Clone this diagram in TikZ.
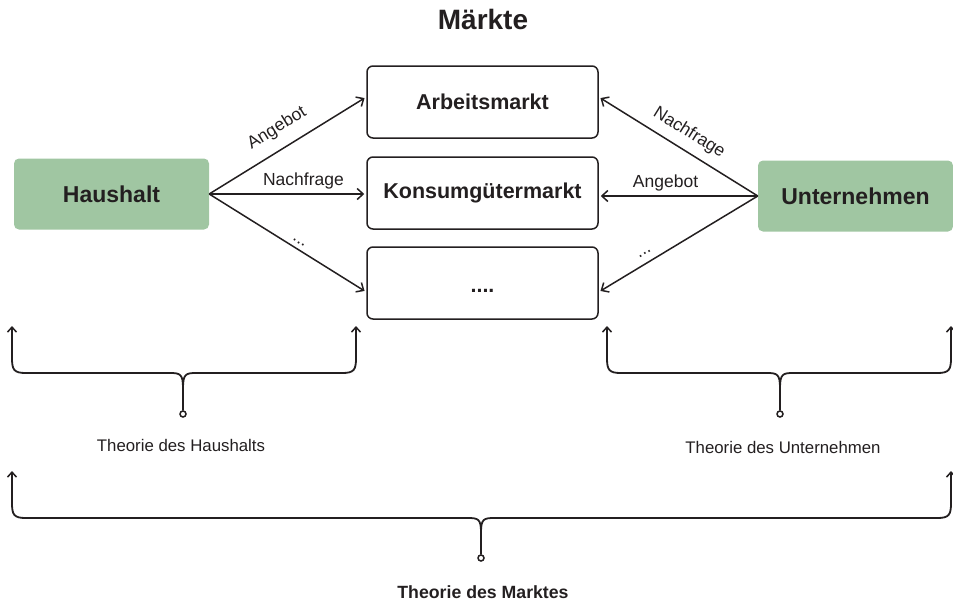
\documentclass[tikz,border=0pt]{standalone}
\usepackage{fontspec}
\setmainfont{Liberation Sans}
\usetikzlibrary{arrows.meta}
\definecolor{boxgreen}{HTML}{A0C6A2}
\definecolor{ink}{HTML}{231F20}
\tikzset{
  actor/.style={fill=boxgreen, rounded corners=5pt, minimum width=195pt, minimum height=71pt,
    font=\fontsize{23}{26}\selectfont\bfseries, text=ink},
  market/.style={draw=ink, line width=1.5pt, rounded corners=6pt, minimum width=231pt, minimum height=72pt,
    font=\fontsize{21.5}{24}\selectfont\bfseries, text=ink},
  flow/.style={draw=ink, line width=1.5pt, -{Straight Barb[length=6pt,width=11pt,line width=1.5pt]}, shorten >=2pt},
  lbl/.style={font=\fontsize{17.5}{20}\selectfont, text=ink},
  brace/.style={draw=ink, line width=1.8pt, -{Straight Barb[length=5pt,width=9pt,line width=1.5pt]}},
  knob/.style={circle, draw=ink, fill=white, line width=1.5pt, inner sep=0pt, minimum size=6pt},
  theory/.style={font=\fontsize{16.8}{19}\selectfont, text=ink},
}
\begin{document}
\begin{tikzpicture}[x=1pt,y=-1pt]
\useasboundingbox (0,0) rectangle (953,603);

% title
\node[font=\fontsize{28}{32}\selectfont\bfseries, text=ink] (title) at (483,19) {Märkte};

% actors and markets
\node[actor] (hh) at (111.5,194) {Haushalt};
\node[actor] (un) at (855.5,196) {Unternehmen};
\node[market] (arb) at (482.5,102) {Arbeitsmarkt};
\node[market] (kon) at (482.5,193) {Konsumgütermarkt};
\node[market] (etc) at (482.5,283) {\raisebox{-9pt}[0pt][0pt]{....}};

% household side
\path[flow] (hh.east) -- node[lbl, sloped, above=8pt, pos=0.5] {Angebot} ([yshift=5pt]arb.west);
\path[flow] (hh.east) -- node[lbl, above=1pt, pos=0.6] {Nachfrage} ([yshift=-1pt]kon.west);
\path[flow] (hh.east) -- node[lbl, sloped, above=1pt, pos=0.55] {...} ([yshift=-9pt]etc.west);

% firm side
\path[flow] (un.west) -- node[lbl, sloped, above=5pt, pos=0.49] {Nachfrage} ([yshift=5pt]arb.east);
\path[flow] (un.west) -- node[lbl, above=1pt, pos=0.58] {Angebot} ([yshift=-3pt]kon.east);
\path[flow] (un.west) -- node[lbl, sloped, above=4pt, pos=0.68] {...} ([yshift=-9pt]etc.east);

% brace: theory of the household
\node[knob] (kh) at (183,414) {};
\coordinate (hl) at (12,326);
\coordinate (hr) at (356,326);
\path[brace] (kh.north) -- (183,388) .. controls (183,374) and (180,373) .. (170,373)
  -- (26,373) .. controls (14,373) and (12,370) .. (12,358) -- (hl);
\path[brace] (kh.north) -- (183,388) .. controls (183,374) and (186,373) .. (196,373)
  -- (342,373) .. controls (354,373) and (356,370) .. (356,358) -- (hr);
\node[theory] (th) at (181,445) {Theorie des Haushalts};

% brace: theory of the firm
\node[knob] (ku) at (780,414) {};
\coordinate (ul) at (607,326);
\coordinate (ur) at (951,326);
\path[brace] (ku.north) -- (780,388) .. controls (780,374) and (777,373) .. (767,373)
  -- (621,373) .. controls (609,373) and (607,370) .. (607,358) -- (ul);
\path[brace] (ku.north) -- (780,388) .. controls (780,374) and (783,373) .. (793,373)
  -- (937,373) .. controls (949,373) and (951,370) .. (951,358) -- (ur);
\node[theory] (tu) at (783,447) {Theorie des Unternehmen};

% brace: theory of the market
\node[knob] (km) at (481,558) {};
\coordinate (ml) at (12,471);
\coordinate (mr) at (951,471);
\path[brace] (km.north) -- (481,532) .. controls (481,519) and (478,518) .. (468,518)
  -- (26,518) .. controls (14,518) and (12,515) .. (12,503) -- (ml);
\path[brace] (km.north) -- (481,532) .. controls (481,519) and (484,518) .. (494,518)
  -- (937,518) .. controls (949,518) and (951,515) .. (951,503) -- (mr);
\node[font=\fontsize{17.7}{20}\selectfont\bfseries, text=ink] (tm) at (483,592) {Theorie des Marktes};
\end{tikzpicture}
\end{document}
